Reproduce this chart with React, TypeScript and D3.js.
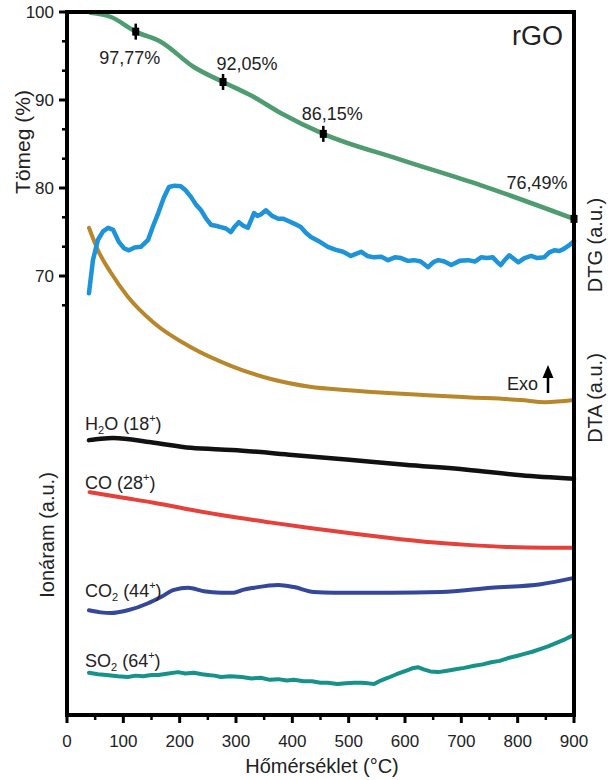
import React from "react";
import * as d3 from "d3";

type P = [number, number];

// x axis (°C)
const xMajor = [0, 100, 200, 300, 400, 500, 600, 700, 800, 900];
const xMinor = [50, 150, 250, 350, 450, 550, 650, 750, 850];
// TG axis (%)
const tgMajor = [100, 90, 80, 70];
const tgMinor = [96.67, 93.33, 86.67, 83.33, 76.67, 73.33, 66.67];

// TG curve: [T °C, mass %]
const tg: P[] = [
  [42, 99.9], [78, 99.43], [122, 97.77], [167, 96.6], [225, 93.75], [277, 92.05],
  [327, 90.5], [380, 88.5], [455, 86.15], [593, 83.2], [735, 80.3], [900, 76.49],
];
const tgMarkT = [122, 277, 455, 900];
const tgMarkV = [97.77, 92.05, 86.15, 76.49];
const tgMarkLabel = ["97,77%", "92,05%", "86,15%", "76,49%"];

// DTG (a.u.)
const dtg: P[] = [
  [39, 60.0], [46, 64.7], [55, 67.6], [64, 68.8], [73, 69.3], [82, 69.0], [92, 67.3],
  [101, 66.4], [110, 66.1], [120, 66.5], [131, 66.6], [144, 67.6], [153, 69.6],
  [162, 71.4], [172, 73.6], [181, 75.1], [191, 75.3], [202, 75.2], [211, 74.6],
  [220, 73.7], [229, 72.6], [238, 71.8], [247, 70.6], [256, 69.7], [264, 69.6],
  [273, 69.4], [282, 69.2], [291, 68.7], [298, 69.5], [305, 70.1], [313, 69.6],
  [321, 69.3], [332, 71.4], [338, 71.0], [344, 71.2], [353, 71.8], [364, 71.0],
  [375, 70.6], [384, 70.6], [392, 70.3], [403, 69.9], [415, 69.4], [424, 68.6],
  [433, 68.0], [447, 67.4], [463, 66.6], [476, 66.2], [490, 65.9], [504, 65.3],
  [513, 65.6], [522, 65.9], [533, 65.3], [545, 65.1], [558, 65.2], [570, 64.7],
  [582, 65.1], [593, 65.0], [605, 64.6], [616, 64.7], [628, 64.5], [641, 63.7],
  [650, 64.4], [659, 64.7], [670, 64.5], [682, 64.0], [697, 64.6], [712, 64.7],
  [724, 64.5], [735, 65.1], [746, 65.0], [756, 65.1], [763, 64.5], [770, 64.0],
  [778, 64.8], [785, 65.4], [793, 64.9], [801, 64.4], [812, 65.0], [824, 65.3],
  [835, 65.0], [847, 65.1], [856, 65.8], [865, 66.1], [874, 66.0], [882, 66.3],
  [891, 66.8], [900, 67.4],
];

// DTA (a.u.)
const dta: P[] = [
  [39, 69.3], [55, 66.1], [78, 62.9], [108, 59.5], [154, 55.8], [220, 52.3],
  [293, 49.6], [362, 47.8], [431, 46.7], [500, 46.2], [570, 45.8], [640, 45.5],
  [710, 45.2], [806, 44.8], [849, 44.5], [900, 44.8],
];

// Ion currents (a.u.)
const h2o: P[] = [
  [39, 39.1], [60, 39.3], [82, 39.4], [149, 38.8], [220, 38.0], [293, 37.7],
  [400, 37.0], [501, 36.3], [600, 35.6], [710, 34.9], [806, 34.1], [900, 33.6],
];
const co: P[] = [
  [40, 31.7], [100, 30.9], [154, 30.2], [220, 29.2], [293, 28.2], [360, 27.4],
  [431, 26.6], [500, 25.9], [570, 25.2], [640, 24.6], [710, 24.2], [780, 23.9],
  [849, 23.8], [900, 23.8],
];
const co2: P[] = [
  [39, 14.9], [60, 14.6], [78, 14.5], [108, 14.9], [144, 15.9], [167, 16.8],
  [190, 17.8], [215, 18.1], [243, 17.6], [273, 17.4], [296, 17.4], [312, 17.8],
  [332, 18.1], [375, 18.5], [403, 18.2], [438, 17.5], [474, 17.4], [522, 17.4],
  [575, 17.4], [664, 17.5], [753, 18.1], [841, 18.6], [900, 19.5],
];
const so2: P[] = [
  [39, 6.0], [55, 5.8], [70, 5.7], [90, 5.5], [108, 5.4], [122, 5.6], [135, 5.5],
  [150, 5.7], [162, 5.7], [180, 5.9], [197, 6.1], [210, 5.9], [225, 6.0], [240, 5.8],
  [250, 5.7], [262, 5.6], [273, 5.4], [290, 5.5], [310, 5.4], [328, 5.2], [344, 5.3],
  [360, 5.0], [375, 5.1], [390, 4.9], [403, 5.0], [420, 4.8], [435, 4.8], [450, 4.6],
  [463, 4.6], [480, 4.4], [495, 4.5], [510, 4.6], [522, 4.6], [535, 4.5], [545, 4.4],
  [557, 4.9], [570, 5.3], [585, 5.8], [605, 6.4], [615, 6.7], [623, 6.8], [633, 6.5],
  [645, 6.2], [659, 6.1], [675, 6.3], [690, 6.5], [705, 6.7], [723, 7.0], [738, 7.2],
  [753, 7.5], [768, 7.7], [783, 8.1], [798, 8.4], [812, 8.7], [826, 9.0], [841, 9.4],
  [855, 9.8], [870, 10.3], [885, 10.8], [900, 11.4],
];

const FONT = "'Liberation Sans', Arial, Helvetica, sans-serif";

export default function App() {
  const L = 67, R = 574, T = 12, B = 715;
  const x = d3.scaleLinear().domain([0, 900]).range([L, R]);
  const yTG = d3.scaleLinear().domain([70, 100]).range([276, 12]);
  const yAU = d3.scaleLinear().domain([0, 100]).range([B, T]);

  const mk = (ys: d3.ScaleLinear<number, number>, curve: d3.CurveFactory) =>
    d3.line<P>().x((d) => x(d[0])).y((d) => ys(d[1])).curve(curve);
  const smoothTG = mk(yTG, d3.curveMonotoneX);
  const smoothAU = mk(yAU, d3.curveMonotoneX);
  const noisyAU = mk(yAU, d3.curveLinear);

  const auSeries = [
    { data: dta, color: "#b8862b", w: 4, gen: smoothAU },
    { data: dtg, color: "#1d93d9", w: 4.5, gen: noisyAU },
    { data: h2o, color: "#111111", w: 4.5, gen: smoothAU },
    { data: co, color: "#e5403a", w: 4, gen: smoothAU },
    { data: co2, color: "#34479a", w: 4, gen: smoothAU },
    { data: so2, color: "#16928b", w: 4, gen: noisyAU },
  ];

  const labelOffsets: [number, number][] = [[-6, 32], [24, -12], [9, -14], [-37, -30]];

  const gasLabel = (y: number, main: string, sub: string | null, rest: string, sup: string) => (
    <text x={85} y={y} fontSize={18} fill="#222">
      {main}
      {sub ? <tspan fontSize={11} dy={4}>{sub}</tspan> : null}
      <tspan dy={sub ? -4 : 0}>{rest}</tspan>
      <tspan fontSize={11} dy={-8}>{sup}</tspan>
      <tspan dy={8}>)</tspan>
    </text>
  );

  return (
    <svg width={608} height={780} style={{ position: "absolute", left: 0, top: 0, background: "#fff" }}
      fontFamily={FONT}>
      <rect x={0} y={0} width={608} height={780} fill="#fff" />
      {/* curves */}
      {auSeries.map((s, i) => (
        <path key={i} d={s.gen(s.data) || ""} fill="none" stroke={s.color} strokeWidth={s.w}
          strokeLinejoin="round" strokeLinecap="round" />
      ))}
      <path d={smoothTG(tg) || ""} fill="none" stroke="#4e9c6f" strokeWidth={4.5} strokeLinecap="round" />

      {/* TG markers */}
      {tgMarkT.map((t, i) => {
        const cx = x(t), cy = yTG(tgMarkV[i]);
        return (
          <g key={i}>
            <line x1={cx} x2={cx} y1={cy - 8} y2={cy + 8} stroke="#000" strokeWidth={2.5} />
            <rect x={cx - 3.5} y={cy - 4} width={7} height={8} fill="#000" />
            <text x={cx + labelOffsets[i][0]} y={cy + labelOffsets[i][1]} fontSize={18}
              textAnchor="middle" fill="#222">{tgMarkLabel[i]}</text>
          </g>
        );
      })}

      {/* frame */}
      <rect x={L} y={T} width={R - L} height={B - T} fill="none" stroke="#000" strokeWidth={4} />

      {/* left ticks */}
      {tgMajor.map((v) => (
        <g key={v}>
          <line x1={L - 8} x2={L} y1={yTG(v)} y2={yTG(v)} stroke="#000" strokeWidth={3} />
          <text x={54} y={yTG(v)} dy="0.35em" fontSize={17} textAnchor="end" fill="#222">{v}</text>
        </g>
      ))}
      {tgMinor.map((v) => (
        <line key={v} x1={L - 5} x2={L} y1={yTG(v)} y2={yTG(v)} stroke="#000" strokeWidth={2.5} />
      ))}

      {/* bottom ticks */}
      {xMajor.map((t) => (
        <g key={t}>
          <line x1={x(t)} x2={x(t)} y1={B} y2={B + 8} stroke="#000" strokeWidth={3} />
          <text x={x(t)} y={747} fontSize={17} textAnchor="middle" fill="#222">{t}</text>
        </g>
      ))}
      {xMinor.map((t) => (
        <line key={t} x1={x(t)} x2={x(t)} y1={B} y2={B + 5} stroke="#000" strokeWidth={2.5} />
      ))}

      {/* axis titles */}
      <text x={322} y={773} fontSize={20} textAnchor="middle" fill="#222">Hőmérséklet (°C)</text>
      <text transform="translate(30,142) rotate(-90)" fontSize={21} textAnchor="middle" fill="#222">Tömeg (%)</text>
      <text transform="translate(54,535) rotate(-90)" fontSize={20} textAnchor="middle" fill="#222">Ionáram (a.u.)</text>
      <text transform="translate(602,245) rotate(-90)" fontSize={20} textAnchor="middle" fill="#222">DTG (a.u.)</text>
      <text transform="translate(602,398) rotate(-90)" fontSize={20} textAnchor="middle" fill="#222">DTA (a.u.)</text>

      {/* sample label */}
      <text x={512} y={45} fontSize={27} fill="#222">rGO</text>

      {/* Exo arrow */}
      <text x={507} y={390} fontSize={18} fill="#222">Exo</text>
      <line x1={548} x2={548} y1={393} y2={374} stroke="#000" strokeWidth={2.5} />
      <polygon points="548,365 542.5,378 553.5,378" fill="#000" />

      {/* gas labels */}
      {gasLabel(430, "H", "2", "O (18", "+")}
      {gasLabel(489, "CO (28", null, "", "+")}
      {gasLabel(597, "CO", "2", " (44", "+")}
      {gasLabel(667, "SO", "2", " (64", "+")}
    </svg>
  );
}
